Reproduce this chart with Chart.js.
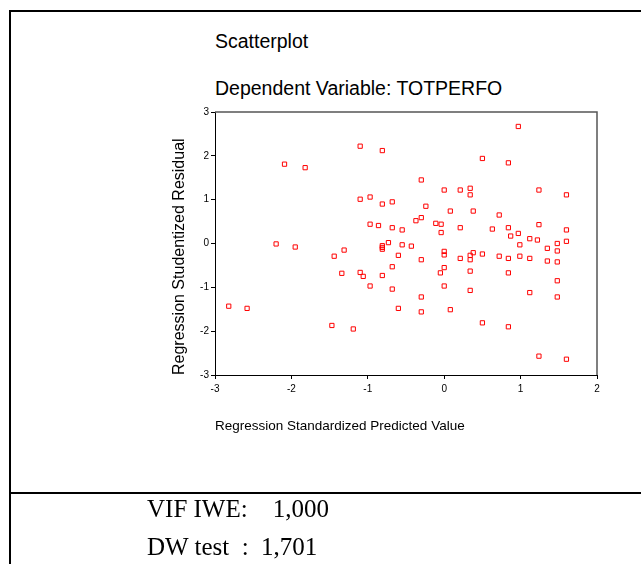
<!DOCTYPE html>
<html>
<head>
<meta charset="utf-8">
<script src="https://cdn.jsdelivr.net/npm/chart.js@4"></script>
<style>
  html, body { margin: 0; padding: 0; background: #fff; }
  body { width: 641px; height: 564px; position: relative; overflow: hidden; }
  #chart { position: absolute; left: 0; top: 0; }
  .frame-top { position: absolute; left: 9px; top: 10px; width: 632px; height: 2px; background: #000; }
  .frame-left { position: absolute; left: 9px; top: 10px; width: 2px; height: 554px; background: #000; }
  .frame-mid { position: absolute; left: 9px; top: 492px; width: 632px; height: 2px; background: #000; }
  .title { position: absolute; left: 215px; font-family: Arial, "Liberation Sans", sans-serif; font-size: 19.5px; color: #000; white-space: nowrap; }
  .stats { position: absolute; left: 147px; font-family: "Times New Roman", "Liberation Serif", serif; font-size: 25px; color: #000; white-space: pre; }
</style>
</head>
<body>
<div class="frame-top"></div>
<div class="frame-left"></div>
<div class="frame-mid"></div>
<div class="title" style="top:30px">Scatterplot</div>
<div class="title" style="top:77px">Dependent Variable: TOTPERFO</div>
<canvas id="chart" width="641" height="564"></canvas>
<div class="stats" style="top:495px">VIF IWE:    1,000</div>
<div class="stats" style="top:533px">DW test  :  1,701</div>
<script>
// Regression Standardized Predicted Value
const predicted = [
    -2.09, -1.82, -1.10, -0.81, -1.10, -0.97, -0.81, -0.68, -0.97, -0.86,
    -0.68, -0.55, -2.20, -1.95, -1.31, -0.81, -0.81, -0.73, -0.55, -0.43,
    -1.44, -1.34, -1.10, -1.06, -0.97, -0.81, -0.68, -0.68, -0.60, -0.60,
    -2.82, -2.58, -1.47, -1.19, 0.97, 0.50, 0.84, -0.30, 0.00, 0.21,
    0.34, 0.34, 1.24, 1.60, -0.24, 0.08, 0.38, 0.72, -0.30, -0.37,
    -0.11, -0.04, -0.04, 0.21, 0.63, 0.84, 0.87, 0.97, 1.24, 1.60,
    1.12, 1.22, 0.99, 1.35, 1.48, 1.60, -0.30, 0.00, 0.00, 0.00,
    -0.05, 0.00, 0.21, 0.34, 0.34, 0.38, 0.34, 0.34, 0.50, 0.72,
    0.84, 0.84, 0.99, 1.12, 1.35, 1.48, 1.48, 1.48, 1.48, 1.12,
    -0.30, -0.30, 0.08, 0.50, 0.84, 1.24, 1.60, -0.81
];
// Regression Studentized Residual
const residual = [
    1.81, 1.73, 2.22, 2.12, 1.01, 1.06, 0.90, 0.95, 0.44, 0.41,
    0.36, 0.31, -0.01, -0.08, -0.15, -0.05, -0.13, 0.02, -0.03, -0.06,
    -0.29, -0.68, -0.66, -0.75, -0.97, -0.73, -0.53, -1.04, -0.27, -1.48,
    -1.43, -1.48, -1.87, -1.95, 2.67, 1.94, 1.84, 1.45, 1.22, 1.22,
    1.26, 1.11, 1.22, 1.11, 0.85, 0.74, 0.74, 0.65, 0.59, 0.52,
    0.46, 0.44, 0.25, 0.36, 0.33, 0.36, 0.17, 0.23, 0.43, 0.31,
    0.11, 0.08, -0.03, -0.11, 0.00, 0.05, -0.37, -0.18, -0.26, -0.55,
    -0.67, -0.97, -0.34, -0.27, -0.37, -0.21, -0.63, -1.07, -0.24, -0.29,
    -0.34, -0.67, -0.29, -0.34, -0.40, -0.17, -0.42, -0.85, -1.22, -1.12,
    -1.22, -1.56, -1.51, -1.81, -1.90, -2.57, -2.64, -0.09
];
const xTicks = [-3, -2, -1, 0, 1, 2];
const yTicks = [-3, -2, -1, 0, 1, 2, 3];

const points = predicted.map((x, i) => ({ x: x, y: residual[i] }));

// grey frame on top and right of the plot area
const plotFrame = {
    id: 'plotFrame',
    beforeDatasetsDraw(chart) {
        const a = chart.chartArea;
        const ctx = chart.ctx;
        ctx.save();
        ctx.strokeStyle = '#555';
        ctx.lineWidth = 1.5;
        ctx.beginPath();
        ctx.moveTo(a.left, a.top);
        ctx.lineTo(a.right, a.top);
        ctx.lineTo(a.right, a.bottom);
        ctx.stroke();
        ctx.restore();
    }
};

const tickFont = { family: 'Arial, "Liberation Sans", sans-serif', size: 10 };

new Chart(document.getElementById('chart').getContext('2d'), {
    type: 'scatter',
    data: {
        datasets: [{
            data: points,
            pointStyle: 'rect',
            pointRadius: 3,
            borderColor: '#ff0000',
            backgroundColor: 'rgba(255,255,255,0)',
            borderWidth: 1
        }]
    },
    options: {
        responsive: false,
        animation: false,
        events: [],
        layout: { padding: { left: 170, top: 112, right: 44, bottom: 130 } },
        plugins: { legend: { display: false }, tooltip: { enabled: false } },
        scales: {
            x: {
                type: 'linear',
                min: xTicks[0],
                max: xTicks[xTicks.length - 1],
                afterBuildTicks: s => { s.ticks = xTicks.map(v => ({ value: v })); },
                afterFit: s => { s.height = 59; },
                grid: { drawOnChartArea: false, tickLength: 4, color: '#000' },
                border: { color: '#000', width: 1 },
                ticks: { font: tickFont, color: '#000', padding: 4, maxRotation: 0 },
                title: { display: true, text: 'Regression Standardized Predicted Value', align: 'start',
                         font: { family: 'Arial, "Liberation Sans", sans-serif', size: 13.5 },
                         color: '#000', padding: 0 }
            },
            y: {
                type: 'linear',
                min: yTicks[0],
                max: yTicks[yTicks.length - 1],
                afterBuildTicks: s => { s.ticks = yTicks.map(v => ({ value: v })); },
                afterFit: s => { s.width = 45; },
                grid: { drawOnChartArea: false, tickLength: 4, color: '#000' },
                border: { color: '#000', width: 1 },
                ticks: { font: tickFont, color: '#000', padding: 2 },
                title: { display: true, text: 'Regression Studentized Residual', align: 'start',
                         font: { family: 'Arial, "Liberation Sans", sans-serif', size: 16 },
                         color: '#000', padding: 0 }
            }
        }
    },
    plugins: [plotFrame]
});
</script>
</body>
</html>
